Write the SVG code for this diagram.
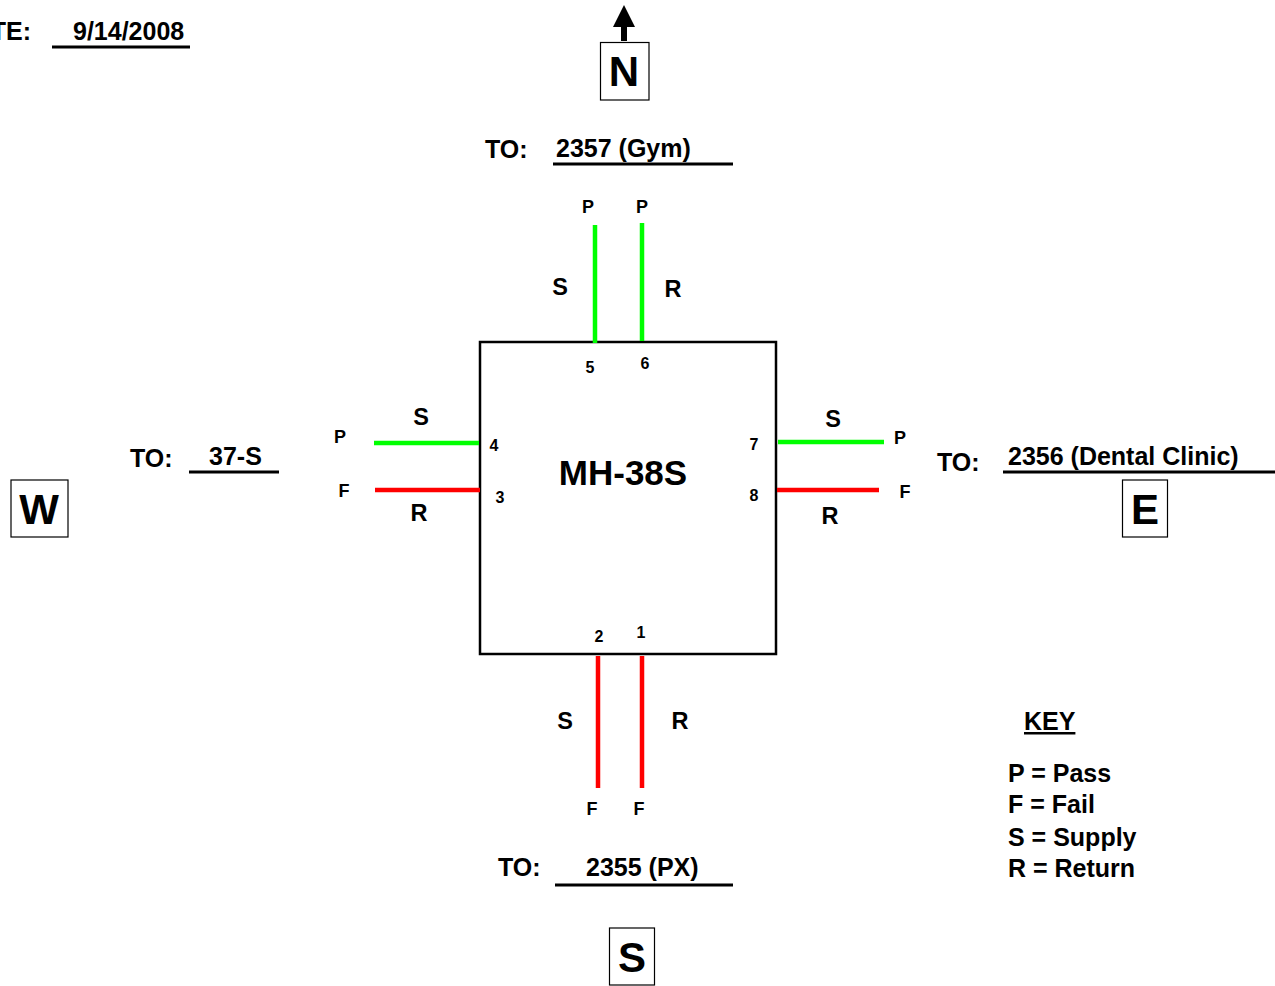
<svg xmlns="http://www.w3.org/2000/svg" width="1275" height="986" viewBox="0 0 1275 986">
<style>
text{font-family:"Liberation Sans",Arial,sans-serif;font-weight:bold;fill:#000}
.big{font-size:25px}
.lbl{font-size:23.5px}
.sm{font-size:18px}
.num{font-size:16px}
.dir{font-size:42px}
.ul{stroke:#000;stroke-width:3}
.g{stroke:#00ff00;stroke-width:4.5}
.r{stroke:#ff0000;stroke-width:4.5}
.box{fill:none;stroke:#000;stroke-width:1.2}
</style>
<rect width="1275" height="986" fill="#fff"/>
<g id="date">
<text class="big" x="31" y="40" text-anchor="end">DATE:</text>
<text class="big" x="73" y="40">9/14/2008</text>
<line class="ul" x1="52" y1="47" x2="190" y2="47"/>
</g>
<g id="north">
<polygon points="624,5 613,27 635,27" fill="#000"/>
<rect x="621" y="26" width="6" height="15" fill="#000"/>
<rect class="box" x="600.5" y="42.5" width="48.5" height="57.5"/>
<text class="dir" x="624" y="86" text-anchor="middle">N</text>
</g>
<g id="west">
<rect class="box" x="11" y="480" width="57" height="57"/>
<text class="dir" x="39" y="524" text-anchor="middle">W</text>
</g>
<g id="east">
<rect class="box" x="1122.5" y="480" width="45" height="57"/>
<text class="dir" x="1145" y="524" text-anchor="middle">E</text>
</g>
<g id="south">
<rect class="box" x="609.5" y="928" width="45" height="57"/>
<text class="dir" x="632" y="972" text-anchor="middle">S</text>
</g>
<g id="mh-38s">
<rect x="480" y="342" width="296" height="312" fill="none" stroke="#000" stroke-width="2.5"/>
<text x="623" y="485" text-anchor="middle" style="font-size:35px">MH-38S</text>
<text class="num" x="590" y="373" text-anchor="middle">5</text>
<text class="num" x="645" y="369" text-anchor="middle">6</text>
<text class="num" x="494" y="451" text-anchor="middle">4</text>
<text class="num" x="500" y="503" text-anchor="middle">3</text>
<text class="num" x="754" y="450" text-anchor="middle">7</text>
<text class="num" x="754" y="501" text-anchor="middle">8</text>
<text class="num" x="599" y="642" text-anchor="middle">2</text>
<text class="num" x="641" y="638" text-anchor="middle">1</text>
</g>
<g id="connectors">
<line class="g" x1="595" y1="225" x2="595" y2="343"/>
<line class="g" x1="642" y1="223" x2="642" y2="341"/>
<line class="g" x1="374" y1="443" x2="479" y2="443"/>
<line class="r" x1="375" y1="490" x2="480" y2="490"/>
<line class="g" x1="778" y1="442" x2="884" y2="442"/>
<line class="r" x1="777" y1="490" x2="879" y2="490"/>
<line class="r" x1="598" y1="656" x2="598" y2="788"/>
<line class="r" x1="642" y1="656" x2="642" y2="788"/>
</g>
<g id="north-labels">
<text class="big" x="485" y="158">TO:</text>
<text class="big" x="556" y="157">2357 (Gym)</text>
<line class="ul" x1="553" y1="164" x2="733" y2="164"/>
<text class="sm" x="588" y="213" text-anchor="middle">P</text>
<text class="sm" x="642" y="213" text-anchor="middle">P</text>
<text class="lbl" x="560" y="295" text-anchor="middle">S</text>
<text class="lbl" x="673" y="297" text-anchor="middle">R</text>
</g>
<g id="west-labels">
<text class="big" x="130" y="467">TO:</text>
<text class="big" x="209" y="465">37-S</text>
<line class="ul" x1="189" y1="472" x2="279" y2="472"/>
<text class="sm" x="340" y="443" text-anchor="middle">P</text>
<text class="lbl" x="421" y="425" text-anchor="middle">S</text>
<text class="sm" x="344" y="497" text-anchor="middle">F</text>
<text class="lbl" x="419" y="521" text-anchor="middle">R</text>
</g>
<g id="east-labels">
<text class="big" x="937" y="471">TO:</text>
<text class="big" x="1008" y="465">2356 (Dental Clinic)</text>
<line class="ul" x1="1003" y1="472" x2="1275" y2="472"/>
<text class="lbl" x="833" y="427" text-anchor="middle">S</text>
<text class="sm" x="900" y="444" text-anchor="middle">P</text>
<text class="sm" x="905" y="498" text-anchor="middle">F</text>
<text class="lbl" x="830" y="524" text-anchor="middle">R</text>
</g>
<g id="south-labels">
<text class="lbl" x="565" y="729" text-anchor="middle">S</text>
<text class="lbl" x="680" y="729" text-anchor="middle">R</text>
<text class="sm" x="592" y="815" text-anchor="middle">F</text>
<text class="sm" x="639" y="815" text-anchor="middle">F</text>
<text class="big" x="498" y="876">TO:</text>
<text class="big" x="586" y="876">2355 (PX)</text>
<line class="ul" x1="555" y1="885" x2="733" y2="885"/>
</g>
<g id="key">
<text class="big" x="1024" y="730" text-decoration="underline">KEY</text>
<text class="big" x="1008" y="782">P = Pass</text>
<text class="big" x="1008" y="813">F = Fail</text>
<text class="big" x="1008" y="846">S = Supply</text>
<text class="big" x="1008" y="877">R = Return</text>
</g>
</svg>
